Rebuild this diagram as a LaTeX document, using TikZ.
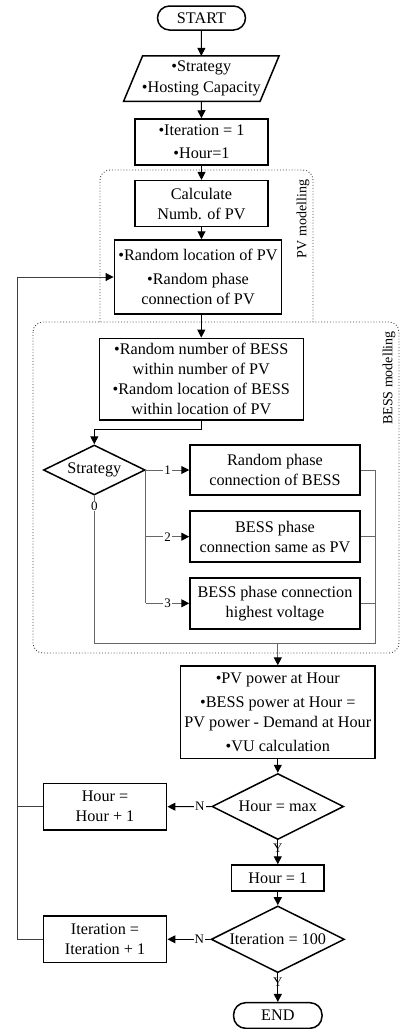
\documentclass[tikz,border=0pt]{standalone}
\usepackage{fontspec}
\setmainfont{Liberation Serif}
\usetikzlibrary{shapes.geometric,arrows.meta,calc}
\begin{document}
\begin{tikzpicture}[x=1pt,y=-1pt,
  base/.style={draw=black, line width=1.5pt, align=center, inner sep=0pt, font=\fontsize{16.2}{20}\selectfont},
  box/.style={base, rectangle},
  term/.style={base, rectangle, rounded corners=12pt},
  dec/.style={base, diamond, aspect=2},
  arr/.style={-{Triangle[length=8pt,width=8pt,color=black]}},
  ln/.style={line width=1pt, draw=black},
  gl/.style={line width=1pt, draw=black!60},
  fbl/.style={line width=1pt, draw=black!75},
  lab/.style={font=\fontsize{13}{13}\selectfont, fill=white, inner sep=1pt},
  region/.style={dotted, line width=0.9pt, draw=black!75, rounded corners=10pt},
  rlab/.style={font=\fontsize{14}{14}\selectfont, rotate=90, inner sep=0pt}
]
\useasboundingbox (0,0) rectangle (400,1029);

% regions
\draw[region] (100,322) -- (100,170) -- (313,170) -- (313,322);
\draw[region] (33,322) rectangle (399,653);
\node[rlab] (pvl) at (303,219) {PV modelling};
\node[rlab] (bl) at (389,378) {BESS modelling};

% nodes
\node[term, minimum width=88, minimum height=24] (start) at (201.5,18) {START};
\node[base, draw=none, minimum width=135, minimum height=44] (in) at (201.3,78.7) {•Strategy\\[1pt]•Hosting Capacity};
\draw[line width=1.5pt] ($(in.north west)+(9.5,0)$) -- ($(in.north east)+(9.5,0)$) -- ($(in.south east)+(-9.5,0)$) -- ($(in.south west)+(-9.5,0)$) -- cycle;
\node[box, minimum width=133.3, minimum height=46] (it) at (201.5,142) {•Iteration = 1\\[3pt]•Hour=1};
\node[box, minimum width=133.4, minimum height=46] (calc) at (201.5,203.7) {Calculate\\Numb. of PV};
\node[box, minimum width=167.4, minimum height=74] (rl) at (198,277) {•Random location of PV\\[4pt]•Random phase\\connection of PV};
\node[box, minimum width=204, minimum height=81.7] (bess) at (201.3,379.2) {•Random number of BESS\\within number of PV\\•Random location of BESS\\within location of PV};
\node[dec, minimum width=101.7, minimum height=50] (strat) at (94.3,470) {Strategy};
\node[box, minimum width=170, minimum height=50] (b1) at (275,470) {Random phase\\connection of BESS};
\node[box, minimum width=170, minimum height=51] (b2) at (275,536.7) {BESS phase\\connection same as PV};
\node[box, minimum width=170, minimum height=51] (b3) at (275,603.3) {BESS phase connection\\highest voltage};
\node[box, minimum width=194.3, minimum height=92.3] (pv) at (277.8,712.2) {•PV power at Hour\\[4pt]•BESS power at Hour =\\PV power - Demand at Hour\\[4pt]•VU calculation};
\node[dec, minimum width=131.7, minimum height=66] (hmax) at (277.8,806.5) {Hour = max};
\node[box, minimum width=123.4, minimum height=46.7] (hp) at (105,806.7) {Hour =\\Hour + 1};
\node[box, minimum width=92.3, minimum height=26] (h1) at (277.8,878) {Hour = 1};
\node[dec, minimum width=133.3, minimum height=66.7] (imax) at (277.8,939.3) {Iteration = 100};
\node[box, minimum width=123.4, minimum height=46.7] (ip) at (105,939.3) {Iteration =\\Iteration + 1};
\node[term, minimum width=88.4, minimum height=25.6] (end) at (277.8,1015.5) {END};

% main connectors
\draw[ln, arr] (start.south) -- (in.north);
\draw[ln, arr] (in.south) -- (it.north);
\draw[ln, arr] (it.south) -- (calc.north);
\draw[ln, arr] (calc.south) -- (calc.south |- rl.north);
\draw[ln, arr] (bess.north |- rl.south) -- (bess.north);
\draw[ln, arr] (bess.south) -- ++(0,9) -| (strat.north);

% strategy branches
\coordinate (j) at (375,643);
\draw[gl, arr] (strat.east) -- node[lab]{1} (b1.west);
\draw[gl] (strat.east) -- (strat.east |- b3.west);
\draw[gl, arr] (strat.east |- b2.west) -- node[lab]{2} (b2.west);
\draw[gl, arr] (strat.east |- b3.west) -- node[lab]{3} (b3.west);
\draw[gl] (strat.south) -- node[lab, pos=0.07]{0} (strat.south |- j) -- (j) -- (b1.east -| j) -- (b1.east);
\draw[gl] (b2.east) -- (b2.east -| j);
\draw[gl] (b3.east) -- (b3.east -| j);
\draw[gl, arr] (pv.north |- j) -- (pv.north);

% lower part
\draw[ln, arr] (pv.south) -- (hmax.north);
\draw[ln, arr] (hmax.west) -- node[lab, pos=0.26]{N} (hp.east);
\draw[ln, arr] (hmax.south) -- node[lab, pos=0.34, fill=none]{Y} (h1.north);
\draw[ln, arr] (h1.south) -- (imax.north);
\draw[ln, arr] (imax.west) -- node[lab, pos=0.26]{N} (ip.east);
\draw[ln, arr] (imax.south) -- node[lab, pos=0.3, fill=none]{Y} (end.north);

% feedback
\coordinate (fb) at (17,0);
\draw[fbl, arr] (ip.west) -- (ip.west -| fb) -- (fb |- rl.west) -- (rl.west);
\draw[fbl] (hp.west) -- (hp.west -| fb);
\end{tikzpicture}
\end{document}
